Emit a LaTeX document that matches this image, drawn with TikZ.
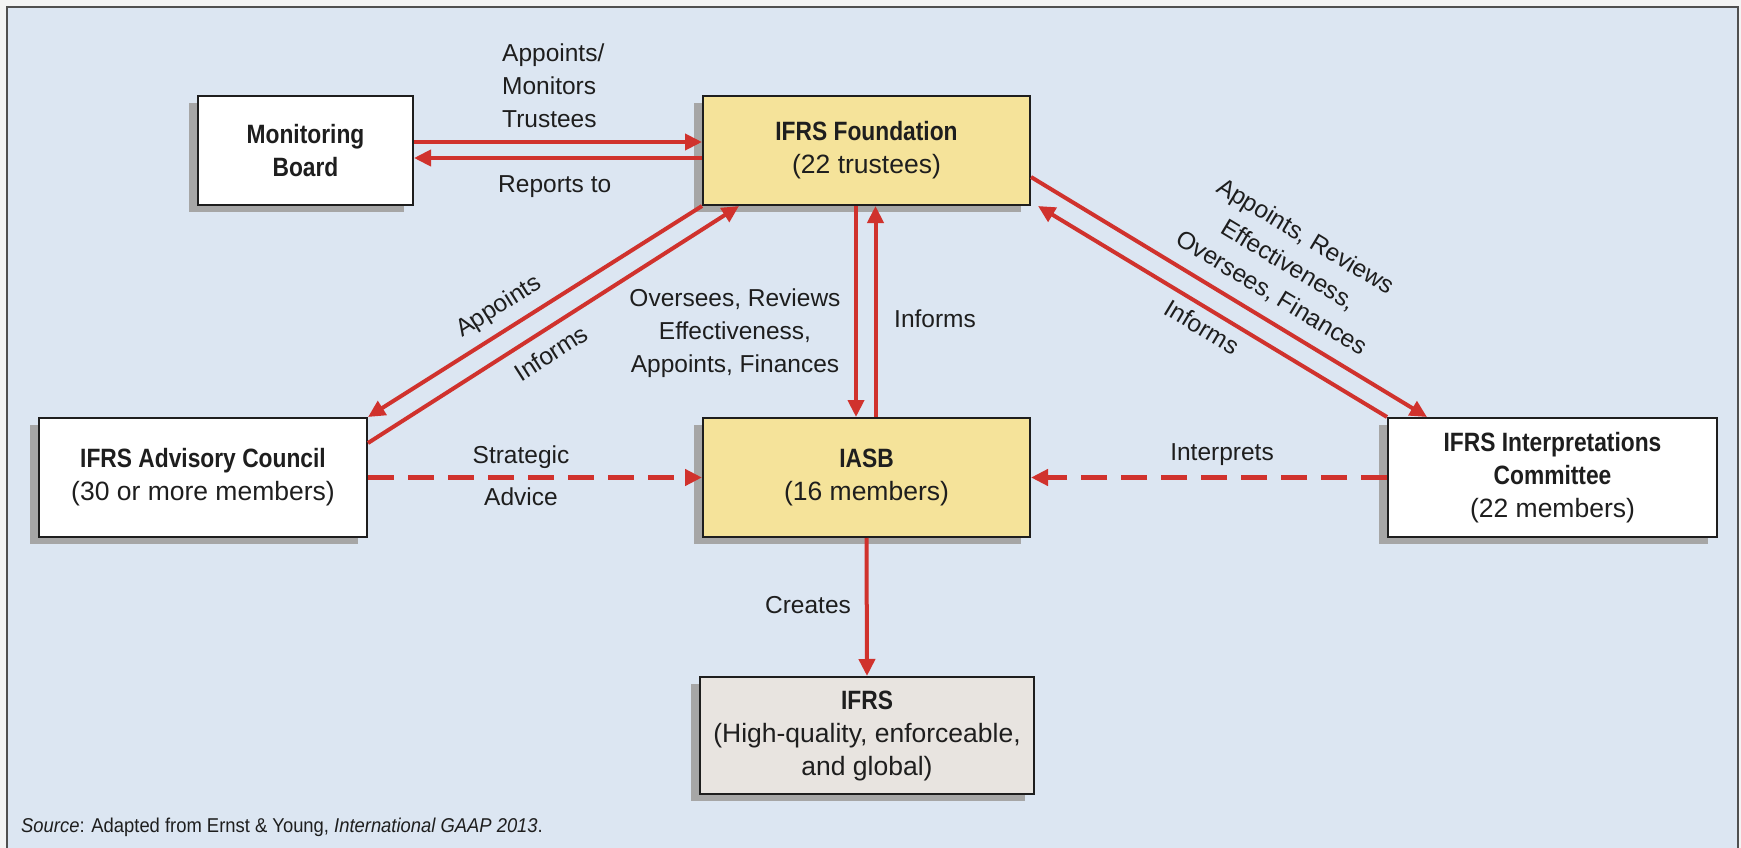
\documentclass[tikz,border=0pt]{standalone}
\usepackage{fontspec}
\setmainfont{Liberation Sans}
\newfontfamily\bcond{Liberation Sans}[FakeStretch=0.86]
\newfontfamily\rcond{Liberation Sans}[FakeStretch=0.92]
\usetikzlibrary{arrows.meta,shadows}
\definecolor{bgblue}{RGB}{220,230,242}
\definecolor{boxyellow}{RGB}{245,227,154}
\definecolor{boxgray}{RGB}{232,228,224}
\definecolor{shadowgray}{RGB}{166,166,166}
\definecolor{linered}{RGB}{208,50,45}
\definecolor{framegray}{RGB}{80,80,80}
\definecolor{outerbg}{RGB}{243,244,244}
\definecolor{txt}{RGB}{30,30,30}
\newcommand\boldtx[1]{{\bcond\bfseries #1}}
\begin{document}
\begin{tikzpicture}[x=1pt,y=-1pt,
  box/.style={draw=txt,line width=2pt,align=center,inner sep=0pt,text=txt,
    font=\fontsize{26.5}{33}\selectfont,
    drop shadow={shadow xshift=-8.6pt,shadow yshift=-6.7pt,fill=shadowgray,opacity=1}},
  lbl/.style={inner sep=0pt,text=txt,font=\fontsize{24.5}{33}\selectfont},
  redarrow/.style={draw=linered,line width=4pt,-{Triangle[length=17pt,width=16pt]}},
  dasharrow/.style={draw=linered,line width=5.5pt,dash pattern=on 26pt off 14pt,-{Triangle[length=17pt,width=16pt]}}
]
\useasboundingbox (0,0) rectangle (1741,848);
\fill[outerbg] (0,0) rectangle (1741,848);
\fill[bgblue] (7,7) rectangle (1738,848);
\draw[framegray,line width=1.5pt] (7,848) -- (7,7) -- (1738,7) -- (1738,848);

% boxes
\node[box,fill=white,minimum width=215pt,minimum height=109pt] (MB) at (305.5,150.5)
  {\boldtx{Monitoring}\\\boldtx{Board}};
\node[box,fill=boxyellow,minimum width=327pt,minimum height=109pt] (IF) at (866.5,150.5)
  {\boldtx{IFRS Foundation}\\(22 trustees)};
\node[box,fill=white,minimum width=328pt,minimum height=119pt] (AC) at (203,477.5)
  {\boldtx{IFRS Advisory Council}\\(30 or more members)};
\node[box,fill=boxyellow,minimum width=327pt,minimum height=119pt] (IASB) at (866.5,477.5)
  {\boldtx{IASB}\\(16 members)};
\node[box,fill=white,minimum width=329pt,minimum height=119pt] (IC) at (1552.5,477.5)
  {\boldtx{IFRS Interpretations}\\\boldtx{Committee}\\(22 members)};
\node[box,fill=boxgray,minimum width=334pt,minimum height=117pt] (IFRS) at (867,735.5)
  {\boldtx{IFRS}\\(High-quality, enforceable,\\and global)};

% connectors
\draw[redarrow] ([yshift=8.5pt]MB.east) -- ([yshift=8.5pt]IF.west);
\draw[redarrow] ([yshift=-7.5pt]IF.west) -- ([yshift=-7.5pt]MB.east);
\draw[redarrow] (IF.south west) -- (AC.north east);
\draw[redarrow] ([yshift=34.5pt]AC.east) -- ([xshift=37pt]IF.south west);
\draw[redarrow] ([xshift=-10.5pt]IF.south) -- ([xshift=-10.5pt]IASB.north);
\draw[redarrow] ([xshift=9pt]IASB.north) -- ([xshift=9pt]IF.south);
\draw[redarrow] ([yshift=-26.5pt]IF.east) -- ([xshift=40pt]IC.north west);
\draw[redarrow] (IC.north west) -- ([xshift=7pt]IF.south east);
\draw[dasharrow] (AC.east) -- (IASB.west);
\draw[dasharrow] (IC.west) -- (IASB.east);
\draw[redarrow] (IASB.south) -- (IFRS.north);

% labels
\node[lbl,anchor=west,align=left] (l1) at (502,88.4) {\strut Appoints/\\\strut Monitors\\\strut Trustees};
\node[lbl,anchor=base west] (l2) at (498,193) {Reports to};
\node[lbl,rotate=32.4] (l3) at (499,307) {Appoints};
\node[lbl,rotate=32.5] (l4) at (551,353) {Informs};
\node[lbl,align=center] (l5) at (735,333) {\strut Oversees, Reviews\\\strut Effectiveness,\\\strut Appoints, Finances};
\node[lbl,anchor=base west] (l6) at (894,327) {Informs};
\node[lbl,align=center,rotate=-31] (l7) at (1288,266) {\strut Appoints, Reviews\\\strut Effectiveness,\\\strut Oversees, Finances};
\node[lbl,rotate=-31] (l8) at (1202,327) {Informs};
\node[lbl,anchor=base] (l9) at (521,463) {Strategic};
\node[lbl,anchor=base] (l10) at (521,505) {Advice};
\node[lbl,anchor=base] (l11) at (1222,460) {Interprets};
\node[lbl,anchor=base] (l12) at (808,613) {Creates};
\node[inner sep=0pt,text=txt,anchor=base west,font=\rcond\fontsize{20}{24}\selectfont] (src) at (21,832)
  {\textit{Source}: Adapted from Ernst \& Young, \textit{International GAAP 2013}.};
\end{tikzpicture}
\end{document}
